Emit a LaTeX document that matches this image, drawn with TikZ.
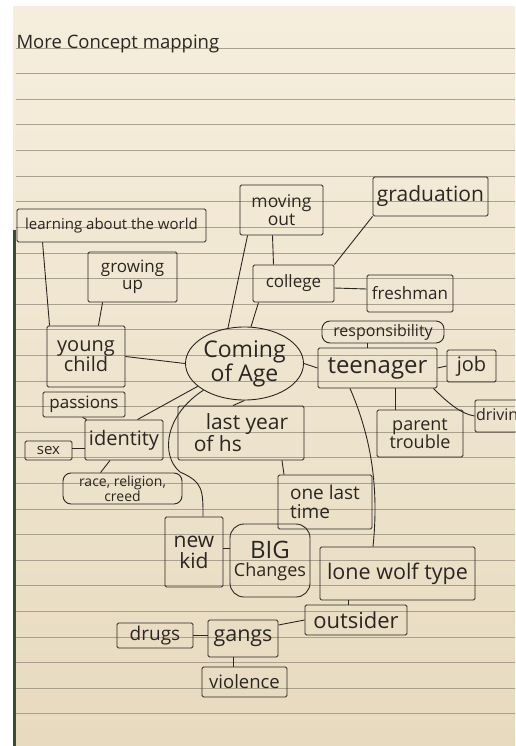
\documentclass[tikz,border=0pt]{standalone}
\usepackage{fontspec}
\setmainfont{Open Sans}
\usetikzlibrary{shapes.geometric}
\definecolor{ink}{HTML}{2B2622}
\definecolor{paperTop}{HTML}{F6EEDD}
\definecolor{paperBot}{HTML}{E7DABF}
\definecolor{rule}{HTML}{A9A08E}
\definecolor{spine}{HTML}{3D4A33}
\tikzset{
    pen/.style={draw=ink, line width=0.9pt},
    box/.style={pen, rectangle, rounded corners=1.5pt, inner sep=1pt, align=center, text=ink},
    roundbox/.style={box, rounded corners=8pt},
    fs/.style={font=\fontsize{#1}{#1}\selectfont},
    conn/.style={draw=ink, line width=0.9pt},
}
\begin{document}
\begin{tikzpicture}[x=1pt, y=-1pt]
    % Paper
    \useasboundingbox (0,0) rectangle (515,746);
    \fill[white] (0,0) rectangle (515,746);
    \shade[top color=paperTop, bottom color=paperBot] (13,7) rectangle (515,746);
    \fill[spine] (13,230) rectangle (16,746);
    \foreach \k in {0,...,26}
        \draw[rule, line width=0.6pt] (16,48+25.6*\k) -- (515,48+25.6*\k);

    % Title
    \node[anchor=west, fs=18.5, text=ink] (title) at (13,44) {More Concept mapping};

    % Nodes (top)
    \node[box, fs=17.5, minimum width=83, minimum height=50] (moving) at (281.5,210) {moving\\out};
    \node[box, fs=21, minimum width=115, minimum height=39] (grad) at (430.5,196.5) {graduation};
    \node[box, fs=15, minimum width=189, minimum height=33] (learn) at (111.5,225.5) {learning about the world};
    \node[box, fs=17, minimum width=89, minimum height=50] (grow) at (132.5,277) {growing\\up};
    \node[box, fs=17, minimum width=81, minimum height=37] (college) at (293.5,283.5) {college};
    \node[box, fs=17, minimum width=86, minimum height=37] (fresh) at (410,293.5) {freshman};
    \node[roundbox, fs=16, inner sep=0pt, minimum width=122, minimum height=22] (resp) at (383,332) {responsibility};

    % Nodes (middle)
    \node[box, fs=20, minimum width=78, minimum height=61] (young) at (86,356.5) {young\\child};
    \node[pen, ellipse, inner sep=0pt, fs=23, text=ink, align=center, minimum width=118, minimum height=73] (coming) at (244.5,363.5) {Coming\\of Age};
    \node[box, fs=24, minimum width=119, minimum height=40] (teen) at (377.5,368) {teenager};
    \node[box, fs=20, minimum width=49, minimum height=32] (job) at (471.5,366) {job};
    \node[box, fs=17, minimum width=82, minimum height=25] (passions) at (84,404.5) {passions};
    \node[box, fs=20, minimum width=78, minimum height=40] (ident) at (124,440) {identity};
    \node[box, fs=15, inner sep=0pt, minimum width=47, minimum height=19] (sex) at (48.5,450.5) {sex};
    \node[roundbox, font=\fontsize{14}{12.5}\selectfont, minimum width=119, minimum height=31] (race) at (122.5,488.5) {race, religion,\\creed};
    \node[box, fs=21, align=left, minimum width=126, minimum height=54] (last) at (241,433) {\hspace{12pt}last year\\of hs};
    \node[box, fs=18, minimum width=86, minimum height=47] (parent) at (420,433.5) {parent\\trouble};
    \node[box, fs=16, align=left, text width=62, minimum height=32] (driving) at (507,416) {driving};

    % Nodes (bottom)
    \node[box, fs=19, align=left, minimum width=94, minimum height=54] (onelast) at (325,502) {one last\\time};
    \node[box, fs=21, minimum width=58, minimum height=70] (newkid) at (194,552) {new\\kid};
    \node[box, rounded corners=14pt, fs=18, minimum width=80, minimum height=73] (big) at (270,560.5) {{\fontsize{24}{24}\selectfont BIG}\\Changes};
    \node[box, fs=21.5, minimum width=155, minimum height=53] (lone) at (397.5,573.5) {lone wolf type};
    \node[box, fs=22, inner sep=0pt, minimum width=102, minimum height=30] (outsider) at (356,620) {outsider};
    \node[box, fs=19, inner sep=0pt, minimum width=76, minimum height=25] (drugs) at (155,635.5) {drugs};
    \node[box, fs=21.5, minimum width=70, minimum height=37] (gangs) at (243,638.5) {gangs};
    \node[box, fs=18.5, minimum width=85, minimum height=30] (violence) at (244.5,682) {violence};

    % Edges
    \draw[conn] ([xshift=26pt]learn.south west) -- ([xshift=3pt]young.north west);
    \draw[conn] ([xshift=15pt]grow.south west) -- ([xshift=-27pt]young.north east);
    \draw[conn] (young.east) -- (coming.west);
    \draw[conn] ([xshift=8pt]moving.south west) -- (coming.115);
    \draw[conn] ([xshift=-9pt]moving.south) -- ([xshift=-20pt]college.north);
    \draw[conn] ([xshift=-35pt]college.south) -- (coming.80);
    \draw[conn] ([xshift=-58pt]grad.south) -- (college.north east);
    \draw[conn] ([yshift=-4.5pt]college.east) -- ([yshift=4.5pt]fresh.west);
    \draw[conn] ([xshift=-16pt]resp.south) -- ([xshift=-10.5pt]teen.north);
    \draw[conn] (coming.east) -- (teen.west);
    \draw[conn] (teen.east) -- (job.west);
    \draw[conn] ([xshift=17.5pt]teen.south) -- ([xshift=-25pt]parent.north);
    \draw[conn] ([xshift=-4pt]teen.south east) .. controls (450,405) and (462,414) .. (driving.west);
    \draw[conn] ([xshift=-27.5pt]teen.south) .. controls (368,430) and (380,480) .. ([xshift=-24.5pt]lone.north);

    \draw[conn] (coming.south) -- ([xshift=-8pt]last.north);
    \draw[conn] (coming.206) -- ([xshift=-26pt]ident.north east);
    \draw[conn] (coming.213) .. controls (165,415) and (160,455) .. (180,472)
        .. controls (203,482) and (203,490) .. ([xshift=9pt]newkid.north);
    \draw[conn] ([xshift=40pt]passions.south west) -- ([xshift=2pt]ident.north west);
    \draw[conn] ([yshift=2pt]sex.east) -- ([yshift=2pt]sex.east -| ident.west);
    \draw[conn] ([xshift=-14pt]ident.south) -- ([xshift=-22pt]race.north);

    \draw[conn] ([xshift=41pt]last.south) -- ([xshift=-41pt]onelast.north);
    \draw[conn] ([yshift=4pt]newkid.east) -- ([yshift=4pt]newkid.east -| big.west);
    \draw[conn] ([xshift=-49.5pt]lone.south) -- ([xshift=-8pt]outsider.north);
    \draw[conn] (outsider.west) -- ([yshift=13.5pt]gangs.east);
    \draw[conn] (drugs.east) -- (drugs.east -| gangs.west);
    \draw[conn] ([xshift=-10pt]gangs.south) -- ([xshift=-11.5pt]violence.north);
\end{tikzpicture}
\end{document}
